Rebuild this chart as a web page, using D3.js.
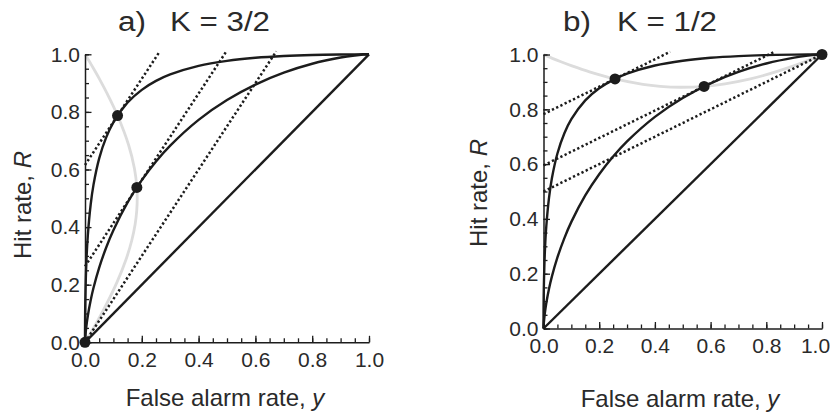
<!DOCTYPE html>
<html>
<head>
<meta charset="utf-8">
<script src="https://cdn.jsdelivr.net/npm/d3@7"></script>
<style>
  body { margin: 0; background: #fff; }
  svg text { font-family: "Liberation Sans", Arial, Helvetica, sans-serif; }
</style>
</head>
<body>
<svg id="chart" width="830" height="412"></svg>
<script>
// ROC curves (same two curves in both panels)
const rocX      = [0, 0.00001, 0.0001, 0.001, 0.005, 0.01, 0.02, 0.03, 0.05, 0.075, 0.1, 0.15, 0.2, 0.25, 0.3, 0.4, 0.5, 0.6, 0.7, 0.8, 0.9, 0.95, 0.98, 1];
const rocStrong = [0, 0.0118, 0.0428, 0.1379, 0.2823, 0.3722, 0.4785, 0.5474, 0.6387, 0.7123, 0.7638, 0.8325, 0.8766, 0.9076, 0.9300, 0.9597, 0.9772, 0.9879, 0.9942, 0.9978, 0.9995, 0.9999, 1, 1];
const rocWeak   = [0, 0.0006, 0.0033, 0.0183, 0.0575, 0.0924, 0.1459, 0.1892, 0.2595, 0.3300, 0.3891, 0.4856, 0.5629, 0.6278, 0.6830, 0.7725, 0.8413, 0.8949, 0.9362, 0.9672, 0.9887, 0.9959, 0.9989, 1];
const chanceX = [0, 1];
const chanceR = [0, 1];

// grey locus curves
const locusAX = [0, 0.0011, 0.0049, 0.0178, 0.0310, 0.0511, 0.0790, 0.1146, 0.1538, 0.1741, 0.1826, 0.1839, 0.1822, 0.1764, 0.1646, 0.1444, 0.1124, 0.0666, 0.0403, 0.0167, 0.0027, 0];
const locusAR = [1, 0.9983, 0.9922, 0.9712, 0.9489, 0.9139, 0.8616, 0.7874, 0.6843, 0.6034, 0.5376, 0.4998, 0.4574, 0.4093, 0.3535, 0.2874, 0.2079, 0.1147, 0.0672, 0.0270, 0.0043, 0];
const locusBX = [0, 0.0020, 0.0091, 0.0339, 0.0603, 0.1022, 0.1653, 0.2568, 0.3569, 0.4188, 0.4911, 0.5766, 0.6519, 0.7389, 0.8038, 0.8721, 0.9373, 0.9846, 1];
const locusBR = [1, 0.9990, 0.9958, 0.9851, 0.9743, 0.9583, 0.9366, 0.9109, 0.8912, 0.8840, 0.8805, 0.8836, 0.8926, 0.9099, 0.9272, 0.9491, 0.9734, 0.9931, 1];

// dotted tangent lines: start and end points
const tangentAX = [[0, 0.2633], [0, 0.4975], [0, 0.6733]];
const tangentAR = [[0.6155, 1.01], [0.2637, 1.01], [0, 1.01]];
const tangentBX = [[0, 0.455], [0, 0.8294], [0, 1]];
const tangentBR = [[0.7825, 1.01], [0.5953, 1.01], [0.5, 1]];

// operating points
const pointAX = [0, 0.1146, 0.1826];
const pointAR = [0, 0.7874, 0.5376];
const pointBX = [0.2568, 0.5766, 1];
const pointBR = [0.9109, 0.8836, 1];

const majorTicks = [0, 0.2, 0.4, 0.6, 0.8, 1];
const minorTicks = [0, 0.05, 0.1, 0.15, 0.2, 0.25, 0.3, 0.35, 0.4, 0.45, 0.5, 0.55, 0.6, 0.65, 0.7, 0.75, 0.8, 0.85, 0.9, 0.95, 1];

const titles = ['a)', 'b)'];
const kLabels = ['K = 3/2', 'K = 1/2'];

const ink = '#1c1c1c';
const textInk = '#2a2a2a';
const svg = d3.select('#chart');

const panels = [
  { x0: 85, x1: 369, y0: 342.3, y1: 54.3, title: titles[0], k: kLabels[0], tx: 118, kx: 170,
    yLabX: 31, yLabY: 205, xLabX: 225, xLabY: 406, lastShift: 0,
    locusX: locusAX, locusR: locusAR, tanX: tangentAX, tanR: tangentAR, ptX: pointAX, ptR: pointAR },
  { x0: 543.5, x1: 822, y0: 328.5, y1: 54.5, title: titles[1], k: kLabels[1], tx: 563, kx: 617,
    yLabX: 487, yLabY: 193, xLabX: 680, xLabY: 407, lastShift: -7,
    locusX: locusBX, locusR: locusBR, tanX: tangentBX, tanR: tangentBR, ptX: pointBX, ptR: pointBR }
];

panels.forEach(p => {
  const x = d3.scaleLinear().domain([0, 1]).range([p.x0, p.x1]);
  const y = d3.scaleLinear().domain([0, 1]).range([p.y0, p.y1]);
  const g = svg.append('g');

  const smooth = d3.line()
    .x(d => x(d[0]))
    .y(d => y(d[1]))
    .curve(d3.curveCatmullRom.alpha(0.5));
  const straight = d3.line().x(d => x(d[0])).y(d => y(d[1]));

  // grey locus behind everything
  g.append('path')
    .datum(d3.zip(p.locusX, p.locusR))
    .attr('d', smooth)
    .attr('fill', 'none')
    .attr('stroke', '#dcdcdc')
    .attr('stroke-width', 2.8);

  // axes: minor ticks then major ticks, all pointing inward
  const xMinor = g.append('g')
    .attr('transform', 'translate(0,' + p.y0 + ')')
    .call(d3.axisBottom(x).tickValues(minorTicks).tickSize(-4).tickSizeOuter(0).tickFormat(''));
  xMinor.select('.domain').remove();
  const yMinor = g.append('g')
    .attr('transform', 'translate(' + p.x0 + ',0)')
    .call(d3.axisLeft(y).tickValues(minorTicks).tickSize(-4).tickSizeOuter(0).tickFormat(''));
  yMinor.select('.domain').remove();

  const xAxis = g.append('g')
    .attr('transform', 'translate(0,' + p.y0 + ')')
    .call(d3.axisBottom(x).tickValues(majorTicks).tickSize(-6.5).tickSizeOuter(0)
      .tickPadding(10).tickFormat(d3.format('.1f')));
  const yAxis = g.append('g')
    .attr('transform', 'translate(' + p.x0 + ',0)')
    .call(d3.axisLeft(y).tickValues(majorTicks).tickSize(-6.5).tickSizeOuter(0)
      .tickPadding(5).tickFormat(d3.format('.1f')));

  // the last x label is nudged left so it stays inside the picture
  xAxis.selectAll('.tick text').filter(d => d === 1).attr('dx', p.lastShift);

  [xMinor, yMinor, xAxis, yAxis].forEach(a => {
    a.attr('color', ink)
      .attr('font-size', 21)
      .attr('font-family', '"Liberation Sans", Arial, Helvetica, sans-serif');
    a.selectAll('line').attr('stroke-width', 1.3);
    a.selectAll('.domain').attr('stroke-width', 1.5);
    a.selectAll('text').attr('fill', textInk);
  });

  // chance diagonal and the two ROC curves
  g.append('path')
    .datum(d3.zip(chanceX, chanceR))
    .attr('d', straight)
    .attr('fill', 'none')
    .attr('stroke', ink)
    .attr('stroke-width', 2.4);
  [rocStrong, rocWeak].forEach(r => {
    g.append('path')
      .datum(d3.zip(rocX, r))
      .attr('d', smooth)
      .attr('fill', 'none')
      .attr('stroke', ink)
      .attr('stroke-width', 2.4);
  });

  // dotted tangents
  p.tanX.forEach((tx, i) => {
    g.append('path')
      .datum(d3.zip(tx, p.tanR[i]))
      .attr('d', straight)
      .attr('fill', 'none')
      .attr('stroke', ink)
      .attr('stroke-width', 2.5)
      .attr('stroke-dasharray', '2.3,2.4');
  });

  // points
  g.selectAll('circle.pt')
    .data(d3.zip(p.ptX, p.ptR))
    .enter()
    .append('circle')
    .attr('class', 'pt')
    .attr('cx', d => x(d[0]))
    .attr('cy', d => y(d[1]))
    .attr('r', 5.5)
    .attr('fill', ink);

  // titles
  g.append('text')
    .attr('x', p.tx).attr('y', 31)
    .attr('font-size', 27).attr('fill', textInk)
    .attr('textLength', 28).attr('lengthAdjust', 'spacingAndGlyphs')
    .text(p.title);
  g.append('text')
    .attr('x', p.kx).attr('y', 31)
    .attr('font-size', 27).attr('fill', textInk)
    .attr('textLength', 100).attr('lengthAdjust', 'spacingAndGlyphs')
    .text(p.k);

  // axis labels
  const yl = g.append('text')
    .attr('transform', 'translate(' + p.yLabX + ',' + p.yLabY + ') rotate(-90)')
    .attr('text-anchor', 'middle')
    .attr('font-size', 24).attr('fill', textInk);
  yl.append('tspan').text('Hit rate, ');
  yl.append('tspan').attr('font-style', 'italic').text('R');

  const xl = g.append('text')
    .attr('x', p.xLabX).attr('y', p.xLabY)
    .attr('text-anchor', 'middle')
    .attr('font-size', 24).attr('fill', textInk);
  xl.append('tspan').text('False alarm rate, ');
  xl.append('tspan').attr('font-style', 'italic').text('y');
});
</script>
</body>
</html>
